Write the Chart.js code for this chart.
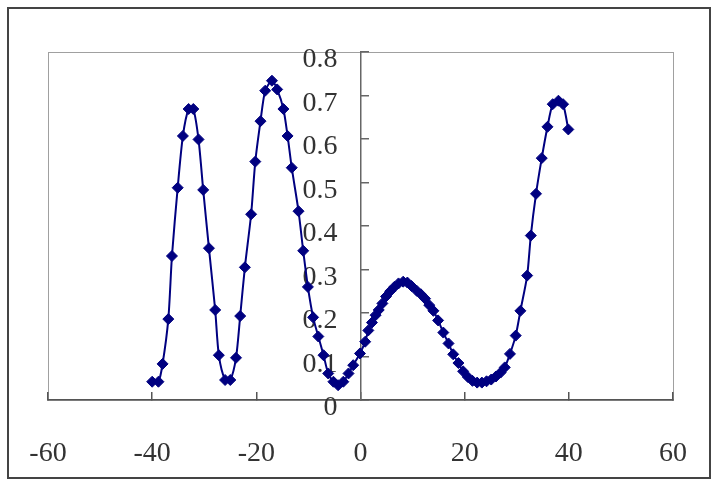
<!DOCTYPE html>
<html>
<head>
<meta charset="utf-8">
<script src="https://cdn.jsdelivr.net/npm/chart.js@4/dist/chart.umd.min.js"></script>
<style>
  html, body { margin: 0; padding: 0; background: #fff; }
  #wrap { width: 715px; height: 485px; position: relative; }
</style>
</head>
<body>
<div id="wrap"><canvas id="c"></canvas></div>
<script>
// valores (x, y)
const xVals = [-40, -38.8, -38.0, -36.9, -36.2, -35.1, -34.1, -33.0, -32.1, -31.1, -30.2, -29.1, -27.9, -27.2, -26.0, -25.0,
  -23.9, -23.1, -22.2, -21.0, -20.2, -19.2, -18.3, -17.0, -16.0, -14.8, -14.0, -13.2, -11.9, -11.0, -10.1, -9.1, -8.1,
  -7.1, -6.2, -5.2, -4.3, -3.3, -2.3, -1.4, -0.1, 0.9, 1.5, 2.2, 2.9, 3.5, 4.2, 4.9, 5.7, 6.5, 7.3, 8.2, 9.0, 9.8, 10.8,
  11.6, 12.4, 13.2, 14.0, 14.9, 15.9, 16.9, 17.8, 18.8, 19.7, 20.6, 21.5, 22.4, 23.3, 24.2, 25.1, 26.0, 26.9, 27.7, 28.7,
  29.8, 30.7, 32.0, 32.7, 33.7, 34.8, 35.9, 36.9, 38.0, 38.9, 39.9];
const yVals = [0.042, 0.042, 0.083, 0.186, 0.331, 0.488, 0.607, 0.669, 0.669, 0.599, 0.483, 0.349, 0.207, 0.103, 0.046, 0.046,
  0.097, 0.193, 0.305, 0.427, 0.548, 0.641, 0.711, 0.734, 0.714, 0.669, 0.607, 0.534, 0.434, 0.343, 0.260, 0.190, 0.146,
  0.103, 0.061, 0.042, 0.034, 0.042, 0.061, 0.080, 0.107, 0.134, 0.160, 0.178, 0.195, 0.207, 0.222, 0.238, 0.250, 0.260,
  0.268, 0.272, 0.270, 0.262, 0.251, 0.243, 0.233, 0.218, 0.205, 0.183, 0.155, 0.130, 0.105, 0.085, 0.066, 0.053, 0.044,
  0.040, 0.040, 0.043, 0.047, 0.054, 0.063, 0.075, 0.106, 0.148, 0.205, 0.286, 0.378, 0.474, 0.556, 0.628, 0.680, 0.688,
  0.680, 0.622];
const xRange = [-60, 60];
const xStep = 20;
const yRange = [0, 0.8];
const yStep = 0.1;

const NAVY = '#000080';
const fonte = { family: "'Liberation Serif', 'Times New Roman', serif", size: 28 };

// molduras: borda externa e borda da área de plotagem
const molduras = {
  id: 'molduras',
  beforeDraw(chart) {
    const { ctx, chartArea: a } = chart;
    ctx.save();
    ctx.strokeStyle = '#444';
    ctx.lineWidth = 2;
    ctx.strokeRect(8, 8, 702, 470);
    ctx.strokeStyle = '#a0a0a0';
    ctx.lineWidth = 1;
    ctx.strokeRect(Math.round(a.left) + 0.5, Math.round(a.top) + 0.5, Math.round(a.width), Math.round(a.height));
    ctx.restore();
  }
};

// reposiciona os rótulos sem mexer no padding (que o Chart.js soma à área lateral)
function moveRotulos(fn) {
  return (scale) => {
    if (scale._movido) return;
    scale._movido = true;
    const orig = scale._computeLabelItems;
    scale._computeLabelItems = function (area) {
      const items = orig.call(this, area);
      items.forEach((it) => fn(this, it.options));
      return items;
    };
  };
}

new Chart(document.getElementById('c'), {
  type: 'scatter',
  data: {
    datasets: [{
      data: xVals.map((x, i) => ({ x, y: yVals[i] })),
      showLine: true,
      borderColor: NAVY,
      borderWidth: 2,
      tension: 0.25,
      pointStyle: 'rectRot',
      pointRadius: 5.5,
      pointBackgroundColor: NAVY,
      pointBorderColor: NAVY,
      pointBorderWidth: 1
    }]
  },
  options: {
    responsive: true,
    maintainAspectRatio: false,
    animation: false,
    layout: { padding: { left: 48, right: 42, top: 52, bottom: 0 } },
    plugins: { legend: { display: false }, tooltip: { enabled: false } },
    scales: {
      x: {
        type: 'linear',
        position: 'bottom',
        min: xRange[0], max: xRange[1],
        afterFit: (s) => { s.height = 85; },
        afterUpdate: moveRotulos((s, o) => { o.translation[1] += 45; }),
        border: { display: true, color: '#555', width: 1.5 },
        grid: { display: true, drawOnChartArea: false, drawTicks: true, tickLength: -8, color: '#555', lineWidth: 1.5 },
        ticks: { stepSize: xStep, color: '#333', font: fonte, padding: 0, maxRotation: 0 }
      },
      y: {
        type: 'linear',
        position: { x: 0 },
        min: yRange[0], max: yRange[1],
        afterUpdate: moveRotulos((s, o) => {
          o.translation[0] = s.chart.scales.x.getPixelForValue(0) - 23;
          o.translation[1] += 3;
          o.textAlign = 'right';
        }),
        border: { display: true, color: '#666', width: 1.5 },
        grid: { display: true, drawOnChartArea: false, drawTicks: true, tickLength: -9, color: '#666', lineWidth: 1.5 },
        ticks: {
          stepSize: yStep, color: '#333', font: fonte, padding: 0, labelOffset: 5,
          callback: (v) => (Math.abs(v) < 1e-9 ? '0' : v.toFixed(1))
        }
      }
    }
  },
  plugins: [molduras]
});
</script>
</body>
</html>
